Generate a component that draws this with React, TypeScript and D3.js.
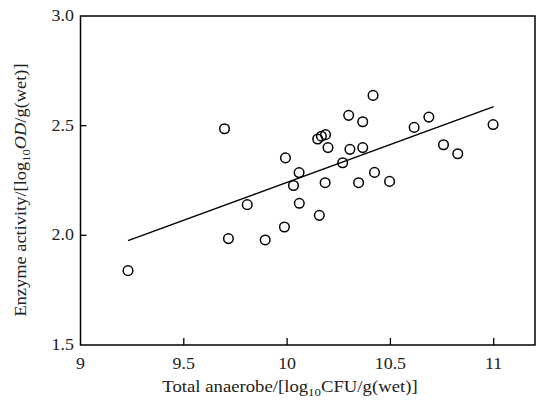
import React from "react";
import * as d3 from "d3";

const anaerobe = [9.23, 9.697, 9.716, 9.807, 9.894, 9.987, 9.992, 10.031, 10.058, 10.059, 10.148, 10.166, 10.186, 10.156, 10.198, 10.184, 10.269, 10.298, 10.304, 10.346, 10.366, 10.366, 10.416, 10.423, 10.496, 10.615, 10.686, 10.757, 10.826, 10.997];
const enzyme = [1.839, 2.486, 1.985, 2.14, 1.979, 2.038, 2.353, 2.227, 2.286, 2.146, 2.439, 2.452, 2.459, 2.091, 2.4, 2.24, 2.331, 2.547, 2.392, 2.24, 2.518, 2.4, 2.638, 2.287, 2.246, 2.492, 2.539, 2.413, 2.372, 2.505];
const fitX = [9.23, 11.0];
const fitY = [1.976, 2.587];
const xTicks = [9, 9.5, 10, 10.5, 11];
const xTickLabels = ["9", "9.5", "10", "10.5", "11"];
const yTicks = [1.5, 2.0, 2.5, 3.0];
const yTickLabels = ["1.5", "2.0", "2.5", "3.0"];

const W = 541, H = 402;
const left = 80.5, right = 535, top = 16, bottom = 345;

export default function App() {
  const x = d3.scaleLinear().domain([9, 11]).range([left, 493.7]);
  const y = d3.scaleLinear().domain([1.5, 3.0]).range([bottom, top]);
  const xMax = x.invert(right);
  const xs = d3.scaleLinear().domain([9, xMax]).range([left, right]);
  const line = d3.line<number>().x((d, i) => xs(fitX[i])).y((d) => y(d));
  const font = "'Liberation Serif', 'Times New Roman', serif";
  return (
    <div style={{ position: "fixed", left: 0, top: 0 }}>
      <svg width={W} height={H} style={{ display: "block", background: "#fff" }} fontFamily={font}>
        <rect x={left} y={top} width={right - left} height={bottom - top} fill="none" stroke="#000" strokeWidth={1.5} />
        {xTicks.map((t, i) => (
          <g key={"x" + i}>
            {i > 0 && <line x1={xs(t)} x2={xs(t)} y1={bottom} y2={bottom - 7} stroke="#000" strokeWidth={1.3} />}
            <g transform={`translate(${xs(t)},369) scale(1.12,1)`}>
              <text x={0} y={0} textAnchor="middle" fontSize={16} fill="#222">{xTickLabels[i]}</text>
            </g>
          </g>
        ))}
        {yTicks.map((t, i) => (
          <g key={"y" + i}>
            {i > 0 && i < yTicks.length - 1 && <line x1={left} x2={left + 6} y1={y(t)} y2={y(t)} stroke="#000" strokeWidth={1.3} />}
            <g transform={`translate(74,${y(t) + 5}) scale(1.12,1)`}>
              <text x={0} y={0} textAnchor="end" fontSize={16} fill="#222">{yTickLabels[i]}</text>
            </g>
          </g>
        ))}
        <path d={line(fitY) || ""} fill="none" stroke="#000" strokeWidth={1.4} />
        {anaerobe.map((v, i) => (
          <circle key={i} cx={xs(v)} cy={y(enzyme[i])} r={4.8} fill="none" stroke="#000" strokeWidth={1.5} />
        ))}
        <g transform={`translate(290,392) scale(1.17,1)`}>
          <text x={0} y={0} textAnchor="middle" fontSize={16} fill="#222">
            Total anaerobe/[log<tspan fontSize={11} dy={4}>10</tspan><tspan dy={-4}>CFU/g(wet)]</tspan>
          </text>
        </g>
        <g transform={`translate(26,190) rotate(-90) scale(1.15,1)`}>
          <text x={0} y={0} textAnchor="middle" fontSize={16} fill="#222">
            Enzyme activity/[log<tspan fontSize={11} dy={4}>10</tspan><tspan dy={-4} fontStyle="italic">OD</tspan><tspan>/g(wet)]</tspan>
          </text>
        </g>
      </svg>
    </div>
  );
}
